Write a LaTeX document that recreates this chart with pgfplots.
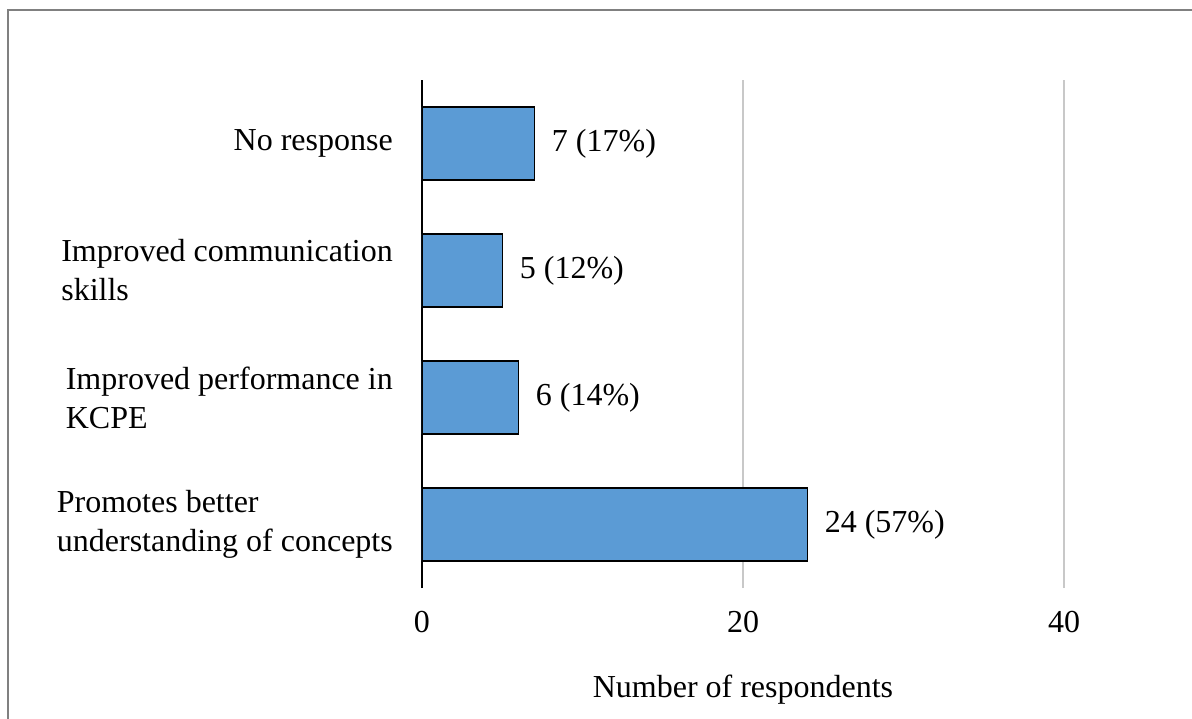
\documentclass[border=0pt]{standalone}
\usepackage{pgfplots}
\pgfplotsset{compat=1.18}
\usepackage{fontspec}
\setmainfont{Liberation Serif}
\definecolor{barblue}{RGB}{91,155,213}
\definecolor{framegray}{RGB}{128,128,128}
\definecolor{gridgray}{RGB}{200,200,200}
\newcommand{\chartfont}{\fontsize{32}{39}\selectfont}
\begin{document}
\begin{tikzpicture}
\useasboundingbox (0,0) rectangle (1192pt,718pt);
\draw[framegray, line width=2.2pt] (8pt,-5pt) -- (8pt,708pt) -- (1200pt,708pt);
\begin{axis}[
 at={(422pt,130pt)}, anchor=south west,
 scale only axis, width=642pt, height=508pt,
 xbar, bar width=73pt,
 xmin=0, xmax=40, ymin=-0.5, ymax=3.5,
 xtick={0,20,40}, ytick={0,1,2,3},
 yticklabels={{Promotes better\\understanding of concepts},{Improved performance in\\KCPE},{Improved communication\\skills},{No response}},
 separate axis lines,
 axis x line*=bottom, x axis line style={draw=none},
 axis y line*=left, y axis line style={black, line width=1.5pt},
 major tick length=0pt,
 xmajorgrids, grid style={gridgray, line width=2pt},
 /pgf/number format/assume math mode=true,
 xticklabel style={font=\chartfont, anchor=north, inner sep=0pt, yshift=-23pt},
 yticklabel style={font=\chartfont, anchor=east, inner sep=0pt, xshift=-29pt, align=left},
 xlabel={Number of respondents},
 xlabel style={font=\chartfont, at={(axis description cs:0.5,0)}, anchor=base, yshift=-109pt, inner sep=0pt},
 nodes near coords, point meta=explicit symbolic,
 nodes near coords style={font=\chartfont, anchor=west, inner sep=0pt, xshift=17pt, black},
]
\addplot[fill=barblue, draw=black, line width=1.2pt] coordinates {(24,0) [24 (57\%)] (6,1) [6 (14\%)] (5,2) [5 (12\%)] (7,3) [7 (17\%)]};
\end{axis}
\end{tikzpicture}
\end{document}
